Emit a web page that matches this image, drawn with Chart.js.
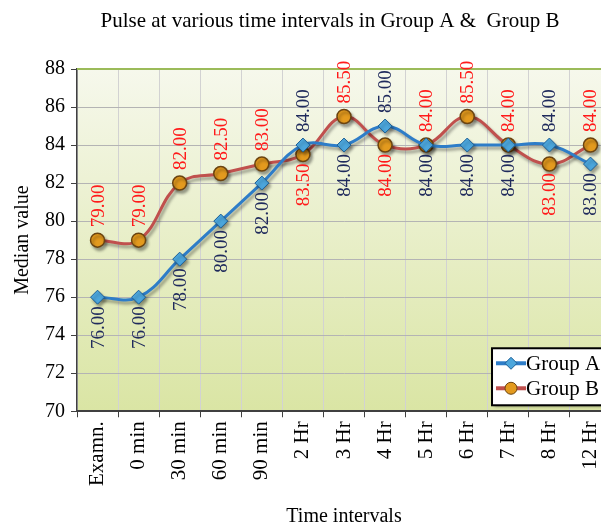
<!DOCTYPE html>
<html lang="en">
<head>
    <meta charset="UTF-8">
    <title>Pulse at various time intervals</title>
    <script src="https://cdn.jsdelivr.net/npm/chart.js"></script>
    <style>
        body { margin: 0; overflow: hidden; background: #fff; }
        .wrap { width: 620px; height: 524px; }
    </style>
</head>
<body>
    <div class="wrap"><canvas id="pulseChart"></canvas></div>
    <script>
    const intervals = ['Examn.', '0 min', '30 min', '60 min', '90 min', '2 Hr', '3 Hr', '4 Hr', '5 Hr', '6 Hr', '7 Hr', '8 Hr', '12 Hr'];
    const groupA = [76, 76, 78, 80, 82, 84, 84, 85, 84, 84, 84, 84, 83];
    const groupB = [79, 79, 82, 82.5, 83, 83.5, 85.5, 84, 84, 85.5, 84, 83, 84];
    const yTicks = [70, 72, 74, 76, 78, 80, 82, 84, 86, 88];

    const serif = "'Liberation Serif', 'Times New Roman', serif";
    const labelColors = ['#1f2a5c', '#ff1a1a'];

    // plot background + shadows + labels + legend
    const decor = {
        id: 'decor',
        beforeDraw(chart) {
            const { ctx, chartArea: a } = chart;
            const g = ctx.createLinearGradient(0, a.top, 0, a.bottom);
            g.addColorStop(0, '#f6f8ec');
            g.addColorStop(1, '#dae5a4');
            ctx.save();
            ctx.fillStyle = g;
            ctx.fillRect(a.left, a.top, a.right - a.left, a.bottom - a.top);
            ctx.restore();
        },
        beforeDatasetsDraw(chart) {
            const ctx = chart.ctx;
            ctx.save();
            ctx.shadowColor = 'rgba(0,0,0,0.35)';
            ctx.shadowBlur = 3;
            ctx.shadowOffsetX = 2;
            ctx.shadowOffsetY = 3;
        },
        afterDatasetsDraw(chart) {
            const { ctx, chartArea: a } = chart;
            ctx.restore();
            // green top edge
            ctx.save();
            ctx.strokeStyle = '#9bbb59';
            ctx.lineWidth = 2;
            ctx.beginPath();
            ctx.moveTo(a.left, a.top);
            ctx.lineTo(a.right + 10, a.top);
            ctx.stroke();
            ctx.restore();

            // rotated value labels
            ctx.save();
            ctx.font = '19px ' + serif;
            ctx.textBaseline = 'middle';
            chart.data.datasets.forEach((ds, i) => {
                const other = chart.data.datasets[1 - i].data;
                chart.getDatasetMeta(i).data.forEach((pt, j) => {
                    const v = ds.data[j];
                    const above = i === 0 ? v > other[j] : !(other[j] > v);
                    ctx.save();
                    ctx.translate(pt.x + 1, pt.y);
                    ctx.rotate(-Math.PI / 2);
                    ctx.fillStyle = labelColors[i];
                    if (above) {
                        ctx.textAlign = 'left';
                        ctx.fillText(v.toFixed(2), 13, 0);
                    } else {
                        ctx.textAlign = 'right';
                        ctx.fillText(v.toFixed(2), -9, 0);
                    }
                    ctx.restore();
                });
            });
            ctx.restore();

            // legend box
            const lx = a.right - 119, ly = a.bottom - 63;
            ctx.save();
            ctx.shadowColor = 'rgba(0,0,0,0.4)';
            ctx.shadowBlur = 3;
            ctx.shadowOffsetX = 2;
            ctx.shadowOffsetY = 2;
            ctx.fillStyle = '#fff';
            ctx.fillRect(lx, ly, 140, 57);
            ctx.restore();
            ctx.save();
            ctx.strokeStyle = '#000';
            ctx.lineWidth = 2;
            ctx.strokeRect(lx, ly, 140, 57);
            ctx.font = '21px ' + serif;
            ctx.textBaseline = 'middle';
            ctx.textAlign = 'left';
            chart.data.datasets.forEach((ds, i) => {
                const cy = ly + 15 + i * 25;
                ctx.strokeStyle = ds.borderColor;
                ctx.lineWidth = 4;
                ctx.beginPath();
                ctx.moveTo(lx + 4, cy);
                ctx.lineTo(lx + 34, cy);
                ctx.stroke();
                ctx.fillStyle = ds.pointBackgroundColor;
                ctx.strokeStyle = ds.pointBorderColor;
                ctx.lineWidth = 1;
                ctx.beginPath();
                if (i === 0) {
                    ctx.moveTo(lx + 19, cy - 6);
                    ctx.lineTo(lx + 25, cy);
                    ctx.lineTo(lx + 19, cy + 6);
                    ctx.lineTo(lx + 13, cy);
                    ctx.closePath();
                } else {
                    ctx.arc(lx + 19, cy, 6, 0, Math.PI * 2);
                }
                ctx.fill();
                ctx.stroke();
                ctx.fillStyle = '#000';
                ctx.fillText(ds.label, lx + 34, cy + 1);
            });
            ctx.restore();

            // title
            ctx.save();
            ctx.font = '21px ' + serif;
            ctx.fillStyle = '#000';
            ctx.textAlign = 'center';
            ctx.textBaseline = 'middle';
            ctx.fillText('Pulse at various time intervals in Group A &  Group B', 330, 21);
            ctx.restore();
        }
    };

    new Chart(document.getElementById('pulseChart'), {
        type: 'line',
        data: {
            labels: intervals,
            datasets: [{
                label: 'Group A',
                data: groupA,
                borderColor: '#2e7dc8',
                borderWidth: 3,
                tension: 0.4,
                pointStyle: 'rectRot',
                pointRadius: 7,
                pointBackgroundColor: '#4ca6dc',
                pointBorderColor: '#1d5f96',
                pointBorderWidth: 1
            }, {
                label: 'Group B',
                data: groupB,
                borderColor: '#c0504d',
                borderWidth: 3,
                tension: 0.4,
                pointStyle: 'circle',
                pointRadius: 7,
                pointBackgroundColor: '#e39a1e',
                pointBorderColor: '#6b4410',
                pointBorderWidth: 1.5
            }]
        },
        options: {
            responsive: true,
            maintainAspectRatio: false,
            animation: false,
            layout: { padding: { top: 69, left: 11, right: 6, bottom: -5 } },
            plugins: {
                legend: { display: false },
                title: { display: false },
                tooltip: { enabled: false }
            },
            scales: {
                x: {
                    offset: true,
                    grid: { offset: true, color: '#d2d2d2', tickColor: '#404040', tickLength: 6 },
                    border: { color: '#404040', width: 2 },
                    ticks: {
                        autoSkip: false, maxRotation: 90, minRotation: 90,
                        color: '#000', padding: 4,
                        font: { family: serif, size: 21 }
                    },
                    title: {
                        display: true, text: 'Time intervals', color: '#000',
                        font: { family: serif, size: 20 }, padding: { top: 15, bottom: 0 }
                    }
                },
                y: {
                    min: 70, max: 88,
                    afterBuildTicks: axis => { axis.ticks = yTicks.map(v => ({ value: v })); },
                    grid: { color: '#b4b4b4', tickColor: '#404040', tickLength: 6 },
                    border: { color: '#404040', width: 1.5 },
                    ticks: { color: '#000', padding: 6, font: { family: serif, size: 20 } },
                    title: {
                        display: true, text: 'Median value', color: '#000',
                        font: { family: serif, size: 20 }, padding: { top: 0, bottom: 4 }
                    }
                }
            }
        },
        plugins: [decor]
    });
    </script>
</body>
</html>
